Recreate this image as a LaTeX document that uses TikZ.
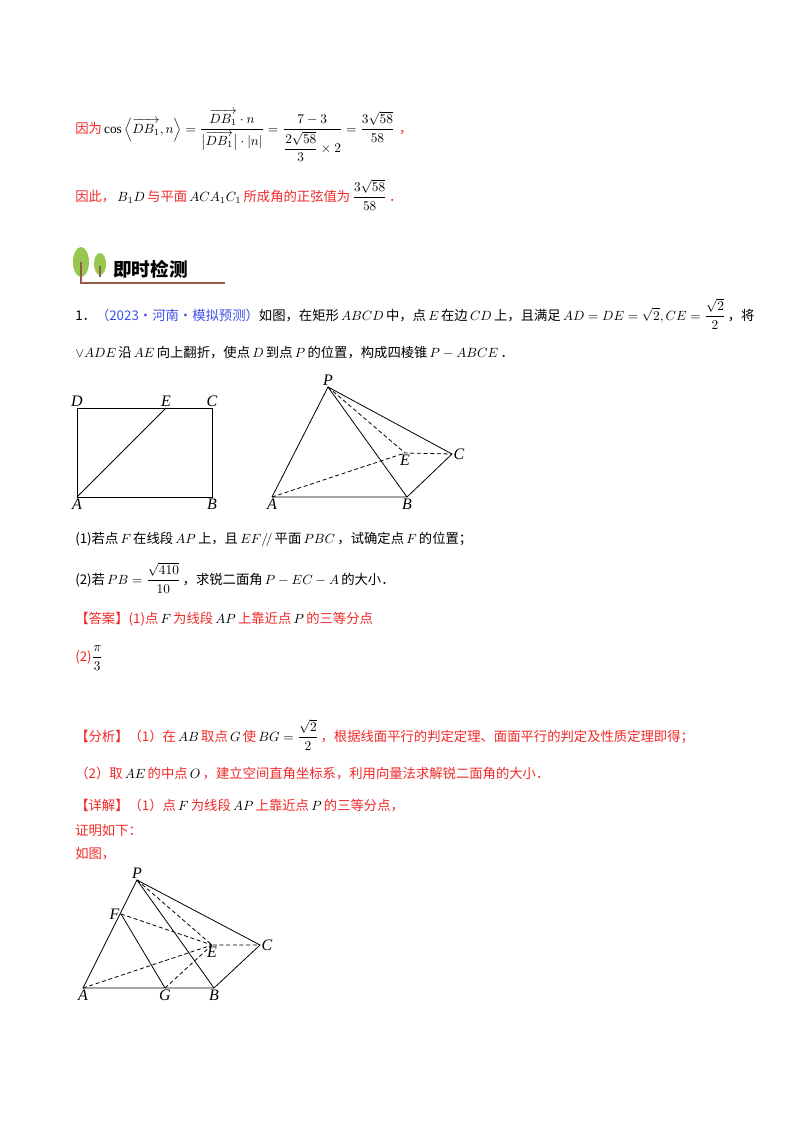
\documentclass[tikz,border=0pt]{standalone}
\usepackage{amsmath}
\usepackage{fontspec}
\setmainfont{Noto Sans CJK SC}
\newfontfamily\lat{Liberation Serif}
\definecolor{rd}{RGB}{240,40,40}
\definecolor{bl}{RGB}{60,80,230}
\definecolor{lf}{RGB}{150,200,80}
\definecolor{tr}{RGB}{150,90,70}
\newcommand{\m}[1]{\,\textcolor{black}{$#1$}\,}
\newcommand{\mycos}{\mathop{\hbox{\lat cos}}\nolimits}
\begin{document}
\begin{tikzpicture}[x=0.75pt,y=-0.75pt,
  txt/.style={anchor=base west,inner sep=0pt,font=\fontsize{10pt}{12pt}\selectfont},
  fig/.style={line width=0.6pt},
  lab/.style={inner sep=1pt,font=\fontsize{12pt}{12pt}\selectfont\lat\itshape},
  dsh/.style={fig,dashed,dash pattern=on 3pt off 2pt}]
\useasboundingbox (0,0) rectangle (800,1132);
% top
\node[txt,text=rd] (t1) at (75,133) {因为\m{\mycos\left\langle\overrightarrow{DB_1},n\right\rangle=\dfrac{\overrightarrow{DB_1}\cdot n}{\bigl|\overrightarrow{DB_1}\bigr|\cdot|n|}=\dfrac{7-3}{\dfrac{2\sqrt{58}}{3}\times2}=\dfrac{3\sqrt{58}}{58}}\,，};
\node[txt,text=rd] (t2) at (75,201) {因此，\m{B_1D}与平面\m{ACA_1C_1}所成角的正弦值为\m{\dfrac{3\sqrt{58}}{58}}．};
% header
\fill[lf] (81,262) ellipse (8 and 15);
\fill[lf] (100,264) ellipse (6 and 11);
\draw[tr,line width=1.2pt] (81,262) -- (81,283) -- (225,283);
\draw[tr,line width=1pt] (100,266) -- (100,277);
\node[txt,font=\fontsize{14pt}{15pt}\selectfont\bfseries] (hd) at (113,276) {即时检测};
% problem
\node[txt] (l1) at (75,320) {1．\textcolor{bl}{（2023·河南·模拟预测）}如图，在矩形\m{ABCD}中，点\m{E}在边\m{CD}上，且满足\m{AD=DE=\sqrt2,CE=\dfrac{\sqrt2}{2}}，将};
\node[txt] (l2) at (75,357) {$\vee ADE$\,沿\m{AE}向上翻折，使点\m{D}到点\m{P}的位置，构成四棱锥\m{P-ABCE}．};
% figure 1
\coordinate (D1) at (77,408); \coordinate (C1) at (212,408);
\coordinate (A1) at (77,497); \coordinate (B1) at (212,497);
\coordinate (E1) at (166,408);
\draw[fig] (A1) rectangle (C1);
\draw[fig] (A1) -- (E1);
\node[lab,above] at (D1) {D}; \node[lab,above] at (C1) {C};
\node[lab,above] at (E1) {E}; \node[lab,below] at (A1) {A};
\node[lab,below] at (B1) {B};
% figure 2
\coordinate (P2) at (328,387); \coordinate (C2) at (452,454);
\coordinate (E2) at (405,453); \coordinate (A2) at (272,497);
\coordinate (B2) at (407,497);
\draw[fig] (A2) -- (P2) -- (C2) -- (B2) -- (A2) (P2) -- (B2);
\draw[dsh] (P2) -- (E2) -- (C2) (A2) -- (E2);
\node[lab,above] at (P2) {P}; \node[lab,right] at (C2) {C};
\node[lab,below] at (E2) {E}; \node[lab,below] at (A2) {A};
\node[lab,below] at (B2) {B};
% questions
\node[txt] (q1) at (75,543) {(1)若点\m{F}在线段\m{AP}上，且\m{EF\mathbin{/\!/}}平面\m{PBC}，试确定点\m{F}的位置；};
\node[txt] (q2) at (75,584) {(2)若\m{PB=\dfrac{\sqrt{410}}{10}}，求锐二面角\m{P-EC-A}的大小．};
\node[txt,text=rd] (a1) at (75,623) {【答案】(1)点\m{F}为线段\m{AP}上靠近点\m{P}的三等分点};
\node[txt,text=rd] (a2) at (75,661) {(2)\textcolor{black}{$\dfrac{\pi}{3}$}};
\node[txt,text=rd] (f1) at (75,741) {【分析】（1）在\m{AB}取点\m{G}使\m{BG=\dfrac{\sqrt2}{2}}，根据线面平行的判定定理、面面平行的判定及性质定理即得；};
\node[txt,text=rd] (f2) at (75,778) {（2）取\m{AE}的中点\m{O}，建立空间直角坐标系，利用向量法求解锐二面角的大小．};
\node[txt,text=rd] (x1) at (75,810) {【详解】（1）点\m{F}为线段\m{AP}上靠近点\m{P}的三等分点，};
\node[txt,text=rd] (x2) at (75,835) {证明如下：};
\node[txt,text=rd] (x3) at (75,858) {如图，};
% figure 3
\coordinate (P3) at (137,880); \coordinate (F3) at (121,914);
\coordinate (E3) at (212,945); \coordinate (C3) at (260,945);
\coordinate (A3) at (83,988); \coordinate (G3) at (165,988);
\coordinate (B3) at (214,988);
\draw[fig] (A3) -- (P3) -- (C3) -- (B3) -- (A3) (P3) -- (B3) (F3) -- (G3);
\draw[dsh] (P3) -- (E3) -- (C3) (A3) -- (E3) (F3) -- (E3) (G3) -- (E3);
\node[lab,above] at (P3) {P}; \node[lab,right] at (C3) {C};
\node[lab,left] at (F3) {F};
\node[lab,below] at (E3) {E}; \node[lab,below] at (A3) {A};
\node[lab,below] at (B3) {B}; \node[lab,below] at (G3) {G};
\end{tikzpicture}
\end{document}
